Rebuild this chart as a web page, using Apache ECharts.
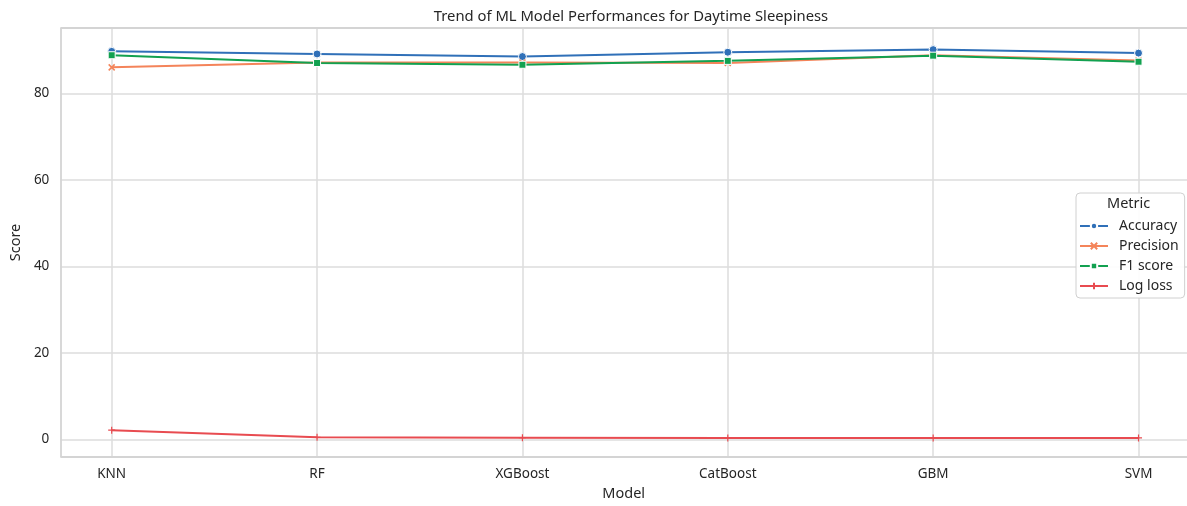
<!DOCTYPE html>
<html><head><meta charset="utf-8">
<script src="https://cdn.jsdelivr.net/npm/echarts@6/dist/echarts.min.js"></script>
<style>html,body{margin:0;padding:0;background:#fff}#c{width:1187px;height:506px}</style>
</head><body><div id="c"></div>
<script>
const categories = ['KNN','RF','XGBoost','CatBoost','GBM','SVM'];
const accuracy  = [89.7, 89.1, 88.5, 89.5, 90.1, 89.3];
const precision = [86.0, 87.1, 87.1, 87.0, 88.8, 87.6];
const f1score   = [88.8, 87.0, 86.6, 87.5, 88.7, 87.3];
const logloss   = [2.1, 0.45, 0.35, 0.3, 0.3, 0.3];
const yTicks = [0, 20, 40, 60, 80];

const chart = echarts.init(document.getElementById('c'));
const font = 'Noto Sans';
const pts = arr => arr.map((v,i)=>[i,v]);
const xPath = 'path://M0,0 L10,10 M10,0 L0,10';
const plusPath = 'path://M5,0 L5,10 M0,5 L10,5';
const idx = categories.map((c,i)=>i);
const yMin = -4.1, yMax = 95.1;
function mk(name, data, color, symbol, size, extra){
  return Object.assign({
    name, type:'line', data: pts(data), symbol, symbolSize:size, z:5,
    lineStyle:{color, width:2}, itemStyle:{color, borderColor:'#fff', borderWidth:1},
    emphasis:{disabled:true}
  }, extra||{});
}
const gridLine = {color:'#dcdcdc', width:1.5, type:'solid'};
const spine = {color:'#d4d4d4', width:1.8, type:'solid'};
chart.setOption({
  animation:false,
  backgroundColor:'#fff',
  title:{text:'Trend of ML Model Performances for Daytime Sleepiness', left:626, textAlign:'center', top:4,
    textStyle:{fontFamily:font, fontSize:14.8, fontWeight:'normal', color:'#262626'}},
  grid:{left:58, top:28, right:0, bottom:45, show:false},
  xAxis:{type:'value', min:-0.25, max:5.236,
    name:'Model', nameLocation:'middle', nameGap:29,
    nameTextStyle:{fontFamily:font, fontSize:14.5, color:'#262626'},
    axisLine:{show:false}, axisTick:{show:false},
    axisLabel:{fontFamily:font, fontSize:13.5, color:'#262626', margin:10,
      formatter:v=> categories[v] !== undefined ? categories[v] : '',
      showMinLabel:true, showMaxLabel:true, customValues:idx},
    splitLine:{show:false}
  },
  yAxis:{type:'value', min:yMin, max:yMax,
    name:'Score', nameLocation:'middle', nameGap:36,
    nameTextStyle:{fontFamily:font, fontSize:14.5, color:'#262626'},
    axisLine:{show:false}, axisTick:{show:false},
    axisLabel:{fontFamily:font, fontSize:13.5, color:'#262626', margin:11, customValues:yTicks},
    splitLine:{show:false}
  },
  legend:{orient:'vertical', left:1076, top:193, width:100, padding:[23,6,2,3], itemGap:0,
    itemWidth:28, itemHeight:8, backgroundColor:'rgba(255,255,255,0.9)', z:20,
    borderColor:'#d0d0d0', borderWidth:1, borderRadius:4,
    textStyle:{fontFamily:font, fontSize:14, color:'#262626', lineHeight:20, padding:[0,0,0,6]},
    data:['Accuracy','Precision','F1 score','Log loss']},
  graphic:[{type:'text', left:1107, top:196, z:100, zlevel:1, style:{text:'Metric', font:'14.5px Noto Sans', fill:'#262626'}}],
  series:[
    mk('Accuracy', accuracy, '#3070b8', 'circle', 8),
    mk('Precision', precision, '#f4845a', xPath, 6, {itemStyle:{color:'#f4845a', borderColor:'#f4845a', borderWidth:1.5}}),
    mk('F1 score', f1score, '#12a150', 'rect', 7),
    mk('Log loss', logloss, '#e84b50', plusPath, 7, {itemStyle:{color:'#e84b50', borderColor:'#e84b50', borderWidth:1.2}}),
    {type:'line', data:[], symbol:'none', silent:true, z:0,
      markLine:{silent:true, symbol:'none', label:{show:false}, lineStyle:gridLine,
        data:yTicks.map(v=>({yAxis:v})).concat(idx.map(v=>({xAxis:v})))}},
    {type:'line', data:[], symbol:'none', silent:true, z:1,
      markLine:{silent:true, symbol:'none', label:{show:false}, lineStyle:spine,
        data:[{yAxis:yMin},{yAxis:yMax},{xAxis:-0.25}]}}
  ]
});
</script></body></html>
